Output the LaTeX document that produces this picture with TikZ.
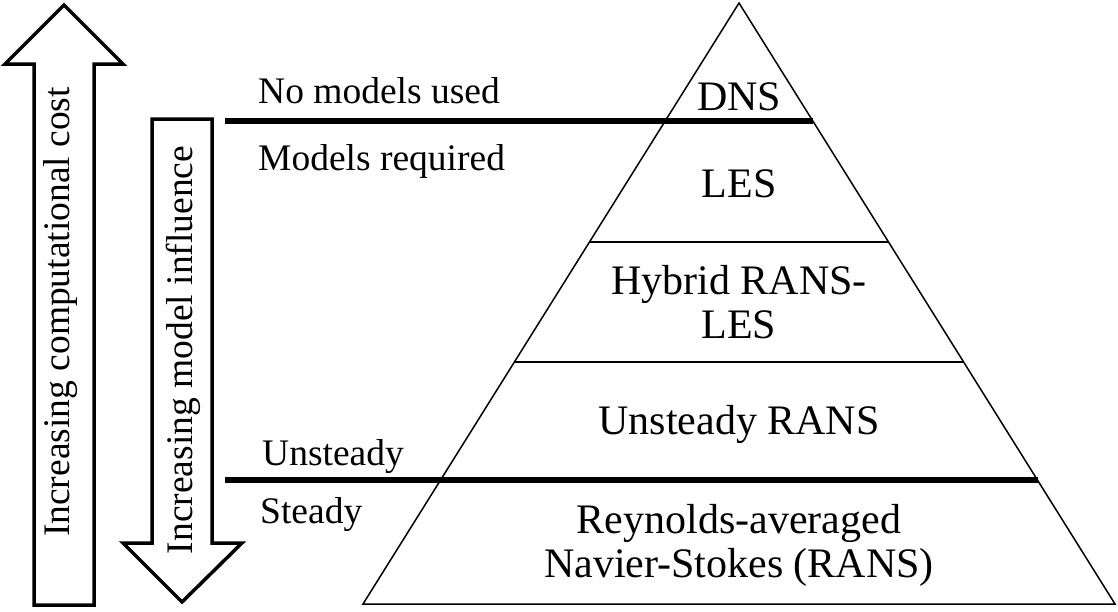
\documentclass[tikz,border=0pt]{standalone}
\usepackage{fontspec}
\setmainfont{Liberation Serif}
\usetikzlibrary{positioning}

\begin{document}
\begin{tikzpicture}[x = 1pt, y = -1pt,
	nivel/.style = {black, align = center, font = \fontsize{42}{44}\selectfont},
	etiqueta/.style = {black, anchor = base west, inner sep = 0pt, font = \fontsize{37.5}{40}\selectfont},
	flecha/.style = {black, line width = 3.5pt, line join = miter},
	eje/.style = {black, rotate = 90, font = \fontsize{37.5}{40}\selectfont}]

	\useasboundingbox (0, 0) rectangle (1118, 611);

	\draw[flecha] (34, 605) -- (34, 64) -- (5, 64) -- (64, 5) -- (123, 64) -- (94, 64) -- (94, 605) -- cycle; % Coste
	\draw[flecha] (152, 119) -- (152, 543) -- (123, 543) -- (182, 602) -- (242, 543) -- (212, 543) -- (212, 119) -- cycle; % Influencia

	\draw[solid, black, line width = 1.5pt] (739, 3) -- (1115, 604) -- (363, 604) -- cycle; % Piramide

	\draw[solid, black, line width = 1.5pt] (589.5, 242) -- (888.5, 242);
	\draw[solid, black, line width = 1.5pt] (514, 362) -- (964, 362);

	\draw[solid, black, line width = 5.5pt] (225, 121) -- (813, 121);
	\draw[solid, black, line width = 5.5pt] (225, 480) -- (1038, 480);

	\node[eje] (coste) at (61, 312) {Increasing computational cost};
	\node[eje] (influencia) at (183, 350) {Increasing model influence};

	\node[etiqueta] (sinmodelos) at (258, 103) {No models used};
	\node[etiqueta] (conmodelos) at (258, 170) {Models required};
	\node[etiqueta] (inestable) at (262, 465) {Unsteady};
	\node[etiqueta] (estable) at (260, 523) {Steady};

	\node[nivel] (dns) at (739, 97) {DNS};
	\node[nivel] (les) at (739, 184) {LES};
	\node[nivel] (hibrido) at (739, 302) {Hybrid RANS-\\LES};
	\node[nivel] (urans) at (739, 424) {Unsteady RANS};
	\node[nivel] (rans) at (739, 545) {Reynolds-averaged\\Navier-Stokes (RANS)};

\end{tikzpicture}
\end{document}
